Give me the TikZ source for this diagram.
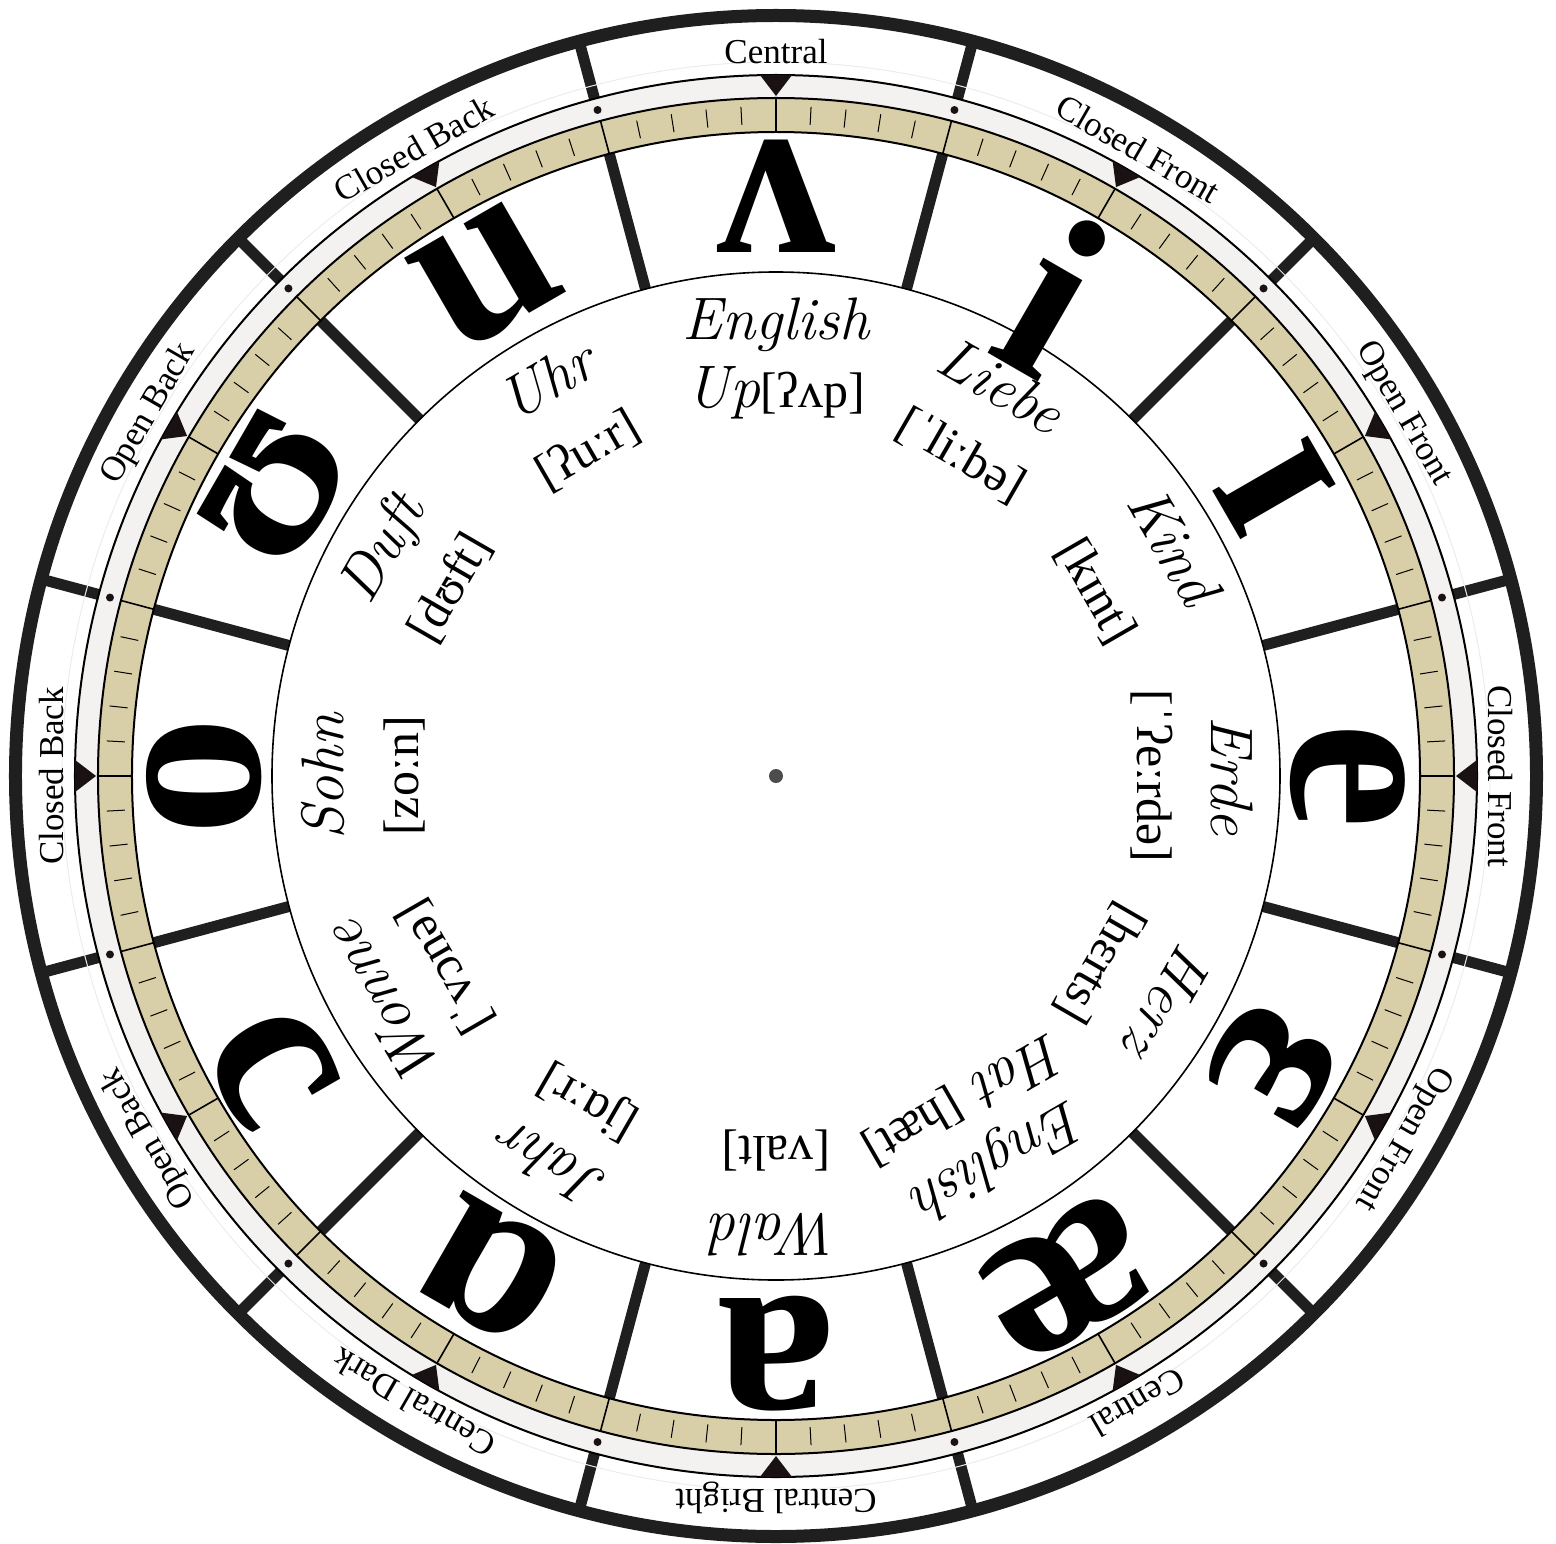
\documentclass[tikz,border=0pt]{standalone}
\usepackage{fontspec}
\newfontfamily\ipafont{Liberation Serif}
\usepackage{tikz}
\definecolor{tanband}{HTML}{D8CEA8}
\definecolor{paleband}{HTML}{F3F2F0}
\definecolor{spokegray}{HTML}{1F1F1F}
\definecolor{markgray}{HTML}{1A1212}

\begin{document}
\begin{tikzpicture}[
                x=0.5pt,
                y=0.5pt,
                spoke/.style={line width=5.5pt, spokegray},
                rim/.style={line width=1pt, black},
                ringlabel/.style={font=\ipafont\fontsize{17.5}{17.5}\selectfont, inner sep=0pt, anchor=center},
                vowel/.style={font=\ipafont\bfseries\fontsize{120}{120}\selectfont, inner sep=0pt, anchor=center},
                word/.style={font=\itshape\fontsize{30}{30}\selectfont, inner sep=0pt, anchor=center},
                ipa/.style={font=\ipafont\fontsize{25}{25}\selectfont, inner sep=0pt, anchor=center}
            ]

            \useasboundingbox (-776,-767) rectangle (780,776);

            \fill[paleband] (0,0) circle (701);
            \fill[tanband] (0,0) circle (678);
            \fill[white] (0,0) circle (644);

            \foreach \a in {15,45,...,345} {
                \draw[spoke] (\a:701) -- (\a:757);
                \draw[spoke] (\a:504) -- (\a:644);
            }

            \draw[line width=6.5pt, black!88] (0,0) circle (760.5);
            \draw[gray!15, line width=0.5pt] (0,0) circle (714);
            \draw[rim] (0,0) circle (701);
            \draw[rim] (0,0) circle (678);
            \draw[rim] (0,0) circle (644);
            \draw[line width=0.8pt] (0,0) circle (504);

            \foreach \b in {0,15,...,345} {
                \draw[line width=0.8pt] (\b:644) -- (\b:678);
                \foreach \d in {3,6,9,12}
                    \draw[line width=0.5pt] ({\b+\d}:652) -- ({\b+\d}:670);
            }

            \foreach \a in {15,45,...,345}
                \fill[markgray] (\a:689.5) circle (4);
            \foreach \a in {0,30,...,330}
                \fill[markgray] (\a:680) -- ({\a+1.3}:701) -- ({\a-1.3}:701) -- cycle;

            \fill[black!70] (0,0) circle (7);

            \node[ringlabel, rotate=0]    (lbl90)  at (90:724)   {Central};
            \node[ringlabel, rotate=-30]  (lbl60)  at (60:724)   {Closed Front};
            \node[ringlabel, rotate=-60]  (lbl30)  at (30:724)   {Open Front};
            \node[ringlabel, rotate=-90]  (lbl0)   at (0:724)    {Closed Front};
            \node[ringlabel, rotate=-120] (lblm30) at (-30:724)  {Open Front};
            \node[ringlabel, rotate=-150] (lblm60) at (-60:724)  {Central};
            \node[ringlabel, rotate=180]  (lblm90) at (-90:722)  {Central Bright};
            \node[ringlabel, rotate=150]  (lblm120) at (-120:724) {Central Dark};
            \node[ringlabel, rotate=120]  (lblm150) at (-150:724) {Open Back};
            \node[ringlabel, rotate=90]   (lbl180) at (180:724)  {Closed Back};
            \node[ringlabel, rotate=60]   (lbl150) at (150:724)  {Open Back};
            \node[ringlabel, rotate=30]   (lbl120) at (120:724)  {Closed Back};

            \node[vowel, rotate=0]    (vow90)  at (90:580)   {ʌ};
            \node[vowel, rotate=-30]  (vow60)  at (60:555)   {i};
            \node[vowel, rotate=-60]  (vow30)  at (30:576)   {ɪ};
            \node[vowel, rotate=-90]  (vow0)   at (0:572)    {e};
            \node[vowel, rotate=-120] (vowm30) at (-30:575)  {ɛ};
            \node[vowel, rotate=-150] (vowm60) at (-60:580)  {æ};
            \node[vowel, rotate=180]  (vowm90) at (-90:578)  {a};
            \node[vowel, rotate=150]  (vowm120) at (-120:570) {ɑ};
            \node[vowel, rotate=120]  (vowm150) at (-150:582) {ɔ};
            \node[vowel, rotate=90]   (vow180) at (180:572)  {o};
            \node[vowel, rotate=60]   (vow150) at (150:576)  {ʊ};
            \node[vowel, rotate=30]   (vow120) at (120:578)  {u};

            \node[word, rotate=0]    (wrd90)  at (90:451)   {English};
            \node[word, rotate=-30]  (wrd60)  at (60:451)   {Liebe};
            \node[word, rotate=-60]  (wrd30)  at (30:460)   {Kind};
            \node[word, rotate=-90]  (wrd0)   at (0:456)    {Erde};
            \node[word, rotate=-120] (wrdm30) at (-30:453)  {Herz};
            \node[word, rotate=-150] (wrdm60) at (-60:441)  {English};
            \node[word, rotate=180]  (wrdm90) at (-90:459)  {Wald};
            \node[word, rotate=150]  (wrdm120) at (-120:450) {Jahr};
            \node[word, rotate=120]  (wrdm150) at (-150:455) {Wonne};
            \node[word, rotate=90]   (wrd180) at (180:453)  {Sohn};
            \node[word, rotate=60]   (wrd150) at (150:452)  {Duft};
            \node[word, rotate=30]   (wrd120) at (120:457)  {Uhr};

            \node[word, rotate=0]    (ipa90)  at (90:383)   {Up\ipafont\upshape\fontsize{25}{25}\selectfont[ʔʌp]};
            \node[ipa, rotate=-30]   (ipa60)  at (60:370)   {[ˈliːbə]};
            \node[ipa, rotate=-60]   (ipa30)  at (30:369)   {[kɪnt]};
            \node[ipa, rotate=-90]   (ipa0)   at (0:376)    {[ˈʔeːrdə]};
            \node[ipa, rotate=-120]  (ipam30) at (-30:374)  {[hɛrts]};
            \node[word, rotate=-150] (ipam60) at (-60:375)  {Hat \ipafont\upshape\fontsize{25}{25}\selectfont[hæt]};
            \node[ipa, rotate=180]   (ipam90) at (-90:374)  {[valt]};
            \node[ipa, rotate=150]   (ipam120) at (-120:375) {[jɑːr]};
            \node[ipa, rotate=120]   (ipam150) at (-150:382) {[ˈvɔnə]};
            \node[ipa, rotate=90]    (ipa180) at (180:371)  {[zoːn]};
            \node[ipa, rotate=60]    (ipa150) at (150:376)  {[dʊft]};
            \node[ipa, rotate=30]    (ipa120) at (120:376)  {[ʔuːr]};

            \end{tikzpicture}
\end{document}
